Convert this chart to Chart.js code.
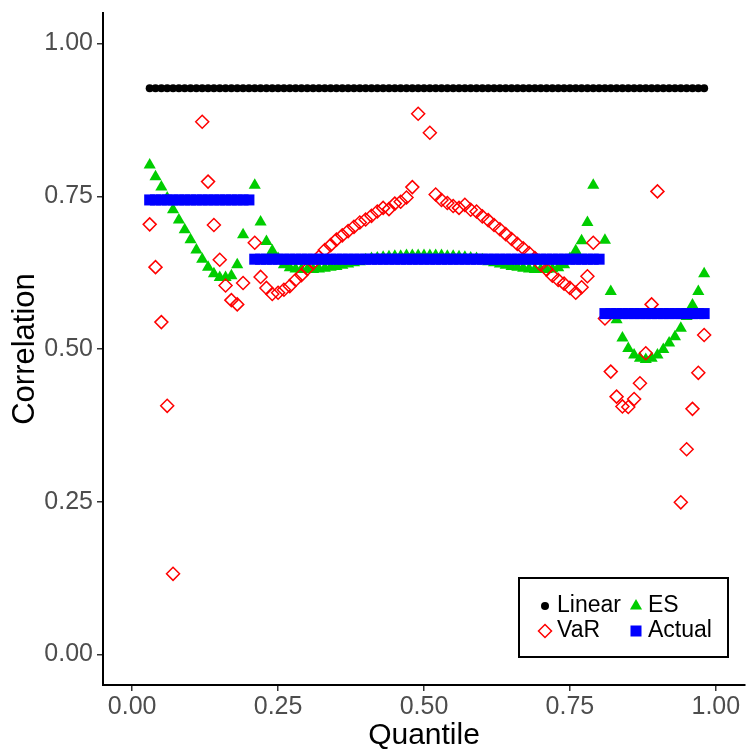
<!DOCTYPE html>
<html>
<head>
<meta charset="utf-8">
<script src="https://cdn.jsdelivr.net/npm/chart.js@4.4.1/dist/chart.umd.min.js"></script>
<style>
  html, body { margin: 0; padding: 0; background: #fff; overflow: hidden; width: 751px; height: 751px; }
  #wrap { width: 753px; height: 751px; position: relative; }
</style>
</head>
<body>
<div id="wrap"><canvas id="corrChart"></canvas></div>
<script>
const quantiles = [
  0.03, 0.04, 0.05, 0.06, 0.07, 0.08, 0.09, 0.10, 0.11, 0.12, 0.13, 0.14,
  0.15, 0.16, 0.17, 0.18, 0.19, 0.20, 0.21, 0.22, 0.23, 0.24, 0.25, 0.26,
  0.27, 0.28, 0.29, 0.30, 0.31, 0.32, 0.33, 0.34, 0.35, 0.36, 0.37, 0.38,
  0.39, 0.40, 0.41, 0.42, 0.43, 0.44, 0.45, 0.46, 0.47, 0.48, 0.49, 0.50,
  0.51, 0.52, 0.53, 0.54, 0.55, 0.56, 0.57, 0.58, 0.59, 0.60, 0.61, 0.62,
  0.63, 0.64, 0.65, 0.66, 0.67, 0.68, 0.69, 0.70, 0.71, 0.72, 0.73, 0.74,
  0.75, 0.76, 0.77, 0.78, 0.79, 0.80, 0.81, 0.82, 0.83, 0.84, 0.85, 0.86,
  0.87, 0.88, 0.89, 0.90, 0.91, 0.92, 0.93, 0.94, 0.95, 0.96, 0.97, 0.98
];

const linearCorr = [
  0.927, 0.927, 0.927, 0.927, 0.927, 0.927, 0.927, 0.927, 0.927, 0.927, 0.927, 0.927,
  0.927, 0.927, 0.927, 0.927, 0.927, 0.927, 0.927, 0.927, 0.927, 0.927, 0.927, 0.927,
  0.927, 0.927, 0.927, 0.927, 0.927, 0.927, 0.927, 0.927, 0.927, 0.927, 0.927, 0.927,
  0.927, 0.927, 0.927, 0.927, 0.927, 0.927, 0.927, 0.927, 0.927, 0.927, 0.927, 0.927,
  0.927, 0.927, 0.927, 0.927, 0.927, 0.927, 0.927, 0.927, 0.927, 0.927, 0.927, 0.927,
  0.927, 0.927, 0.927, 0.927, 0.927, 0.927, 0.927, 0.927, 0.927, 0.927, 0.927, 0.927,
  0.927, 0.927, 0.927, 0.927, 0.927, 0.927, 0.927, 0.927, 0.927, 0.927, 0.927, 0.927,
  0.927, 0.927, 0.927, 0.927, 0.927, 0.927, 0.927, 0.927, 0.927, 0.927, 0.927, 0.927
];

const esCorr = [
  0.801, 0.782, 0.765, 0.747, 0.728, 0.711, 0.695, 0.679, 0.662, 0.647, 0.634, 0.623,
  0.617, 0.617, 0.620, 0.638, 0.687, null,  0.768, 0.708, 0.676, 0.661, 0.648, 0.638,
  0.633, 0.631, 0.630, 0.630, 0.630, 0.631, 0.632, 0.634, 0.635, 0.637, 0.639, 0.641,
  0.643, 0.646, 0.648, 0.649, 0.650, 0.651, 0.652, 0.652, 0.653, 0.653, 0.653, 0.653,
  0.653, 0.653, 0.653, 0.652, 0.652, 0.651, 0.650, 0.649, 0.648, 0.646, 0.643, 0.641,
  0.639, 0.637, 0.635, 0.634, 0.632, 0.631, 0.630, 0.630, 0.630, 0.631, 0.633, 0.638,
  0.648, 0.661, 0.677, 0.707, 0.768, null,  0.678, 0.594, 0.548, 0.518, 0.501, 0.490,
  0.485, 0.483, 0.485, 0.490, 0.499, 0.510, 0.520, 0.534, 0.553, 0.572, 0.594, 0.623
];

const varCorr = [
  0.704, 0.634, 0.544, 0.407, 0.132, null,  null,  null,  null,  0.872, 0.774, 0.703,
  0.646, 0.604, 0.580, 0.573, 0.608, null,  0.674, 0.618, 0.600, 0.590, 0.592, 0.597,
  0.603, 0.613, 0.621, 0.631, 0.641, 0.651, 0.662, 0.670, 0.679, 0.686, 0.693, 0.700,
  0.707, 0.712, 0.718, 0.725, 0.731, 0.729, 0.738, 0.741, 0.748, 0.765, 0.885, null,
  0.854, 0.753, 0.744, 0.739, 0.734, 0.731, 0.736, 0.728, 0.725, 0.717, 0.711, 0.703,
  0.696, 0.688, 0.680, 0.672, 0.665, 0.657, 0.649, 0.638, 0.630, 0.620, 0.613, 0.607,
  0.600, 0.592, 0.601, 0.619, 0.674, null,  0.550, 0.463, 0.422, 0.406, 0.405, 0.418,
  0.444, 0.493, 0.573, 0.758, null,  null,  null,  0.249, 0.336, 0.402, 0.461, 0.523
];

const actualCorr = [
  0.744, 0.744, 0.744, 0.744, 0.744, 0.744, 0.744, 0.744, 0.744, 0.744, 0.744, 0.744,
  0.744, 0.744, 0.744, 0.744, 0.744, 0.744, 0.647, 0.647, 0.647, 0.647, 0.647, 0.647,
  0.647, 0.647, 0.647, 0.647, 0.647, 0.647, 0.647, 0.647, 0.647, 0.647, 0.647, 0.647,
  0.647, 0.647, 0.647, 0.647, 0.647, 0.647, 0.647, 0.647, 0.647, 0.647, 0.647, 0.647,
  0.647, 0.647, 0.647, 0.647, 0.647, 0.647, 0.647, 0.647, 0.647, 0.647, 0.647, 0.647,
  0.647, 0.647, 0.647, 0.647, 0.647, 0.647, 0.647, 0.647, 0.647, 0.647, 0.647, 0.647,
  0.647, 0.647, 0.647, 0.647, 0.647, 0.647, 0.558, 0.558, 0.558, 0.558, 0.558, 0.558,
  0.558, 0.558, 0.558, 0.558, 0.558, 0.558, 0.558, 0.558, 0.558, 0.558, 0.558, 0.558
];

const xTicks = [0, 0.25, 0.5, 0.75, 1];
const yTicks = [0, 0.25, 0.5, 0.75, 1];

const FONT = "'Liberation Sans', Arial, sans-serif";

function toPoints(values) {
  const pts = [];
  values.forEach((v, i) => {
    if (v !== null) pts.push({ x: quantiles[i], y: v });
  });
  return pts;
}

// simple ggplot-like boxed legend in the lower right
const boxLegend = {
  id: 'boxLegend',
  afterDraw(chart) {
    const c = chart.ctx;
    const left = 519, top = 578, w = 209, h = 79;
    c.save();
    c.lineWidth = 2;
    c.strokeStyle = '#000';
    c.strokeRect(left, top, w, h);

    const rows = [606, 631];
    const keyX = [545, 636];
    const entries = [
      { label: 'Linear', shape: 'circle', col: 0, row: 0 },
      { label: 'ES', shape: 'triangle', col: 1, row: 0 },
      { label: 'VaR', shape: 'diamond', col: 0, row: 1 },
      { label: 'Actual', shape: 'square', col: 1, row: 1 }
    ];
    c.font = '23px ' + FONT;
    c.textBaseline = 'middle';
    c.textAlign = 'left';
    entries.forEach(e => {
      const x = keyX[e.col], y = rows[e.row];
      c.beginPath();
      if (e.shape === 'circle') {
        c.fillStyle = '#000';
        c.arc(x, y, 4, 0, Math.PI * 2);
        c.fill();
      } else if (e.shape === 'triangle') {
        c.fillStyle = '#00cd00';
        c.moveTo(x, y - 7);
        c.lineTo(x + 6.06, y + 3.5);
        c.lineTo(x - 6.06, y + 3.5);
        c.closePath();
        c.fill();
      } else if (e.shape === 'diamond') {
        c.strokeStyle = '#ff0000';
        c.lineWidth = 1.5;
        c.moveTo(x, y - 6.5);
        c.lineTo(x + 6.5, y);
        c.lineTo(x, y + 6.5);
        c.lineTo(x - 6.5, y);
        c.closePath();
        c.stroke();
      } else {
        c.fillStyle = '#0000ff';
        c.fillRect(x - 5.5, y - 5.5, 11, 11);
      }
      c.fillStyle = '#000';
      c.fillText(e.label, x + 12, y);
    });
    c.restore();
  }
};

const ctx = document.getElementById('corrChart').getContext('2d');
new Chart(ctx, {
  type: 'scatter',
  data: {
    datasets: [
      {
        label: 'Actual',
        data: toPoints(actualCorr),
        pointStyle: 'rect',
        pointRadius: 7.8,
        backgroundColor: '#0000ff',
        borderWidth: 0
      },
      {
        label: 'VaR',
        data: toPoints(varCorr),
        pointStyle: 'rectRot',
        pointRadius: 6.5,
        backgroundColor: 'rgba(255,255,255,0)',
        borderColor: '#ff0000',
        borderWidth: 1.5
      },
      {
        label: 'ES',
        data: toPoints(esCorr),
        pointStyle: 'triangle',
        pointRadius: 7,
        backgroundColor: '#00cd00',
        borderWidth: 0
      },
      {
        label: 'Linear',
        data: toPoints(linearCorr),
        pointStyle: 'circle',
        pointRadius: 4,
        backgroundColor: '#000',
        borderWidth: 0
      }
    ]
  },
  options: {
    responsive: true,
    maintainAspectRatio: false,
    animation: false,
    events: [],
    layout: { padding: { top: 13, right: 0, left: 0, bottom: 0 } },
    plugins: {
      legend: { display: false },
      tooltip: { enabled: false }
    },
    scales: {
      x: {
        type: 'linear',
        min: -0.05,
        max: 1.05,
        afterBuildTicks: axis => { axis.ticks = xTicks.map(v => ({ value: v })); },
        afterFit: axis => {
          axis.height = 66;
          axis.paddingLeft = 0;
          axis.paddingRight = 0;
        },
        border: { color: '#000', width: 2 },
        grid: { drawOnChartArea: false, drawTicks: true, tickLength: 6, color: '#333', lineWidth: 1.5 },
        ticks: {
          color: '#4d4d4d',
          font: { family: FONT, size: 25, lineHeight: 1 },
          padding: 4,
          maxRotation: 0,
          callback: v => v.toFixed(2)
        },
        title: {
          display: true,
          text: 'Quantile',
          color: '#000',
          font: { family: FONT, size: 30, lineHeight: 1 },
          padding: { top: 0, bottom: 0 }
        }
      },
      y: {
        type: 'linear',
        min: -0.05,
        max: 1.05,
        afterBuildTicks: axis => { axis.ticks = yTicks.map(v => ({ value: v })); },
        afterFit: axis => {
          axis.width = 103;
          axis.paddingTop = 0;
          axis.paddingBottom = 0;
        },
        border: { color: '#000', width: 2 },
        grid: { drawOnChartArea: false, drawTicks: true, tickLength: 6, color: '#333', lineWidth: 1.5 },
        ticks: {
          color: '#4d4d4d',
          font: { family: FONT, size: 25, lineHeight: 1 },
          padding: 4,
          callback: v => v.toFixed(2)
        },
        title: {
          display: true,
          text: 'Correlation',
          color: '#000',
          font: { family: FONT, size: 31, lineHeight: 1 },
          padding: { top: 10, bottom: 0 }
        }
      }
    }
  },
  plugins: [boxLegend]
});
</script>
</body>
</html>
